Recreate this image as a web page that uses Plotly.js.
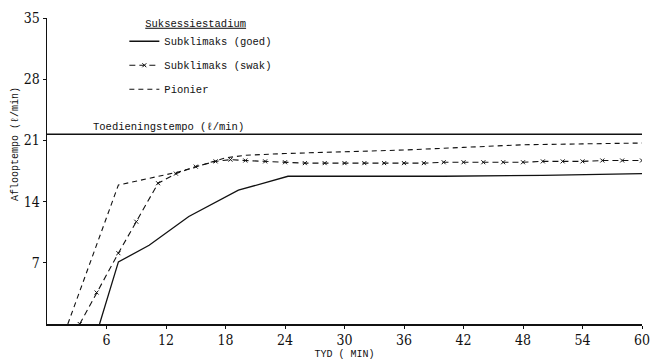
<!DOCTYPE html>
<html>
<head>
<meta charset="utf-8">
<script src="https://cdn.plot.ly/plotly-3.0.1.min.js"></script>
<style>html,body{margin:0;padding:0;background:#fff;}#chart{width:651px;height:360px;}</style>
</head>
<body>
<div id="chart"></div>
<script>
// Data
const goedX = [5.3, 7.2, 10.3, 14.3, 19.3, 24.3, 30, 40, 50, 60];
const goedY = [0, 7.1, 9.0, 12.3, 15.3, 16.9, 16.9, 16.9, 17.0, 17.2];

const swakX = [3.3, 5, 7.2, 9, 11.2, 13, 15, 17, 18.5, 20, 22, 24, 26, 28, 30, 32, 34, 36, 38, 40, 42, 44, 46, 48, 50, 52, 54, 56, 58, 60];
const swakY = [0, 3.6, 8.1, 11.7, 16.1, 17.2, 18.0, 18.6, 18.8, 18.7, 18.6, 18.5, 18.4, 18.4, 18.4, 18.4, 18.4, 18.4, 18.4, 18.5, 18.5, 18.5, 18.5, 18.5, 18.6, 18.6, 18.6, 18.7, 18.7, 18.7];

const pionierX = [2.1, 7.2, 13.3, 18, 20, 24, 30, 36, 42, 48, 54, 60];
const pionierY = [0, 15.9, 17.4, 19.0, 19.3, 19.5, 19.7, 19.9, 20.2, 20.5, 20.6, 20.7];

const toedieningX = [0, 60];
const toedieningY = [21.7, 21.7];

const xTicks = [6, 12, 18, 24, 30, 36, 42, 48, 54, 60];
const yTicks = [7, 14, 21, 28, 35];

const mono = 'Liberation Mono, Courier New, monospace';
const tickFont = {family: 'DejaVu Serif Condensed, Liberation Serif, serif', size: 14, color: '#111'};

const traces = [
  {x: toedieningX, y: toedieningY, mode: 'lines', line: {color: '#111', width: 1.6}, showlegend: false, hoverinfo: 'skip'},
  {x: goedX, y: goedY, mode: 'lines', name: 'Subklimaks (goed)', legendgroup: 'a', line: {color: '#111', width: 1.3}},
  {x: swakX, y: swakY, mode: 'lines+markers', name: 'Subklimaks (swak)', legendgroup: 'b',
   line: {color: '#111', width: 1.1, dash: '6px,4px'},
   marker: {symbol: 'x-thin', size: 4, line: {color: '#111', width: 1}}},
  {x: pionierX, y: pionierY, mode: 'lines', name: 'Pionier', legendgroup: 'c', line: {color: '#111', width: 1.1, dash: '5px,4px'}}
];

const layout = {
  width: 651, height: 360,
  margin: {l: 47, r: 9, t: 18, b: 36},
  paper_bgcolor: '#fff', plot_bgcolor: '#fff',
  showlegend: true,
  legend: {
    x: 0.13, y: 1.016, xanchor: 'left', yanchor: 'top',
    bgcolor: 'rgba(0,0,0,0)',
    font: {family: mono, size: 10.5, color: '#111'},
    title: {text: '&nbsp;&nbsp;&nbsp;<u>Suksessiestadium</u>', font: {family: mono, size: 10.5, color: '#111'}},
    tracegroupgap: 5, itemwidth: 30
  },
  xaxis: {
    range: [0, 60], tickvals: xTicks, ticktext: xTicks.map(String),
    showgrid: false, zeroline: false, showline: true, linecolor: '#111', linewidth: 1.5,
    ticks: 'outside', ticklen: 3, tickcolor: '#111', tickfont: tickFont,
    ticklabeloverflow: 'allow',
    title: {text: 'TYD ( MIN)', font: {family: mono, size: 10, color: '#111'}, standoff: 6}
  },
  yaxis: {
    range: [0, 35], tickvals: yTicks, ticktext: yTicks.map(String),
    showgrid: false, zeroline: false, showline: true, linecolor: '#111', linewidth: 1.5,
    ticks: 'outside', ticklen: 3, tickcolor: '#111', tickfont: tickFont
  },
  annotations: [
    {x: 4.4, y: 21.7, xref: 'x', yref: 'y', xanchor: 'left', yanchor: 'bottom', showarrow: false,
     text: 'Toedieningstempo (ℓ/min)', font: {family: mono, size: 10.5, color: '#111'}, yshift: -1},
    {x: -0.053, y: 0.59, xref: 'paper', yref: 'paper', xanchor: 'center', yanchor: 'middle', showarrow: false,
     textangle: -90, text: 'Aflooptempo (ℓ/min)', font: {family: mono, size: 10, color: '#111'}}
  ]
};

Plotly.newPlot('chart', traces, layout, {displayModeBar: false, staticPlot: true});
</script>
</body>
</html>
